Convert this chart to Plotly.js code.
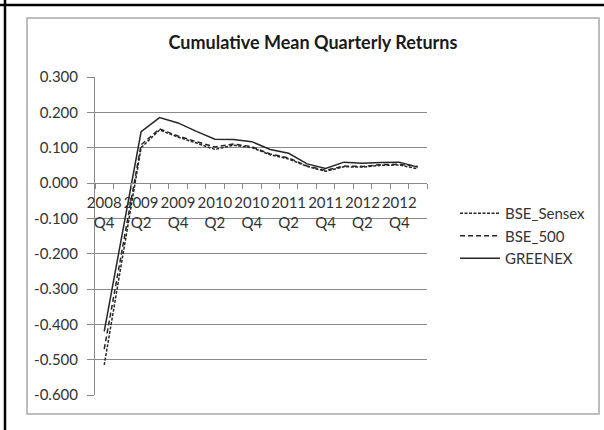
<!DOCTYPE html>
<html>
<head>
<meta charset="utf-8">
<script src="https://cdn.plot.ly/plotly-3.0.1.min.js"></script>
<style>
  html, body { margin: 0; padding: 0; background: #fff; }
  #chart { width: 604px; height: 430px; }
</style>
</head>
<body>
<div id="chart"></div>
<script>
// Quarters (categories)
const quarters = ['2008 Q4','2009 Q1','2009 Q2','2009 Q3','2009 Q4',
                  '2010 Q1','2010 Q2','2010 Q3','2010 Q4',
                  '2011 Q1','2011 Q2','2011 Q3','2011 Q4',
                  '2012 Q1','2012 Q2','2012 Q3','2012 Q4','2013 Q1'];
// Tick labels shown on the category axis (every other quarter)
const xTickText = ['2008<br>Q4','','2009<br>Q2','','2009<br>Q4','','2010<br>Q2','','2010<br>Q4',
                   '','2011<br>Q2','','2011<br>Q4','','2012<br>Q2','','2012<br>Q4',''];
// Series values (cumulative mean quarterly returns)
const bseSensex = [-0.515,-0.205,0.100,0.150,0.130,0.113,0.095,0.107,0.100,0.080,0.068,0.047,0.033,0.046,0.045,0.050,0.051,0.040];
const bse500    = [-0.470,-0.180,0.108,0.153,0.133,0.117,0.102,0.110,0.103,0.082,0.071,0.048,0.036,0.048,0.047,0.052,0.053,0.047];
const greenex   = [-0.420,-0.140,0.145,0.185,0.170,0.146,0.124,0.123,0.117,0.095,0.084,0.054,0.041,0.059,0.056,0.058,0.059,0.045];
// Y tick values and labels
const yTickVals = [0.3,0.2,0.1,0.0,-0.1,-0.2,-0.3,-0.4,-0.5,-0.6];
const yTickText = ['0.300','0.200','0.100','0.000','-0.100','-0.200','-0.300','-0.400','-0.500','-0.600'];

const W = 604, H = 430;
const M = {l: 95, r: 177, t: 77, b: 35};
const PW = W - M.l - M.r, PH = H - M.t - M.b;
// pixel -> plot-area "paper" fraction (for decorative frame shapes)
const fx = px => (px - M.l) / PW;
const fy = py => (H - M.b - py) / PH;

const FONT = 'Lato, Carlito, Calibri, "Open Sans", sans-serif';
const GRID = '#8a8a8a';
const LINE = '#262626';

const traces = [
  {x: quarters, y: bseSensex, name: 'BSE_Sensex', type: 'scatter', mode: 'lines',
   line: {color: LINE, width: 1.5, dash: '3px,1.5px'}},
  {x: quarters, y: bse500, name: 'BSE_500', type: 'scatter', mode: 'lines',
   line: {color: LINE, width: 1.5, dash: '5px,3px'}},
  {x: quarters, y: greenex, name: 'GREENEX', type: 'scatter', mode: 'lines',
   line: {color: LINE, width: 1.5}}
];

const layout = {
  width: W, height: H,
  margin: {l: M.l, r: M.r, t: M.t, b: M.b, pad: 0},
  paper_bgcolor: '#fff', plot_bgcolor: '#fff',
  font: {family: FONT, size: 15, color: '#333'},
  showlegend: true,
  title: {
    text: 'Cumulative Mean Quarterly Returns',
    font: {family: FONT, size: 18, weight: 700, color: '#1a1a1a'},
    x: 313/W, xref: 'container', xanchor: 'center',
    y: 1 - 43/H, yref: 'container', yanchor: 'middle'
  },
  xaxis: {
    type: 'category',
    categoryorder: 'array', categoryarray: quarters,
    range: [-0.5, 17.5],
    anchor: 'free', position: 2/3,
    tickmode: 'array', tickvals: quarters, ticktext: xTickText,
    tickson: 'boundaries',
    ticks: 'outside', ticklen: 5, tickcolor: GRID, tickwidth: 1,
    showline: true, linecolor: GRID, linewidth: 1,
    showgrid: false, zeroline: false,
    ticklabelstandoff: 6,
    tickfont: {family: FONT, size: 15, color: '#333'},
    tickangle: 0
  },
  yaxis: {
    range: [-0.6, 0.3],
    tickmode: 'array', tickvals: yTickVals, ticktext: yTickText,
    ticks: 'outside', ticklen: 7, tickcolor: GRID, tickwidth: 1,
    showline: true, linecolor: GRID, linewidth: 1,
    showgrid: true, gridcolor: GRID, gridwidth: 1,
    zeroline: false,
    ticklabelstandoff: 6,
    tickfont: {family: FONT, size: 15, color: '#333'}
  },
  legend: {
    x: 455/W, xref: 'container', xanchor: 'left',
    y: 1 - 197/H, yref: 'container', yanchor: 'top',
    font: {family: FONT, size: 15, color: '#333'},
    bgcolor: 'rgba(0,0,0,0)', borderwidth: 0,
    itemwidth: 40, traceorder: 'normal'
  },
  shapes: [
    {type: 'rect', xref: 'paper', yref: 'paper',
     x0: fx(27), x1: fx(599), y0: fy(414), y1: fy(18),
     line: {color: '#a8a8a8', width: 1.5}, layer: 'below'},
    {type: 'line', xref: 'paper', yref: 'paper',
     x0: fx(0), x1: fx(W), y0: fy(5), y1: fy(5),
     line: {color: '#000', width: 2.5}},
    {type: 'line', xref: 'paper', yref: 'paper',
     x0: fx(5), x1: fx(5), y0: fy(H), y1: fy(0),
     line: {color: '#000', width: 2.5}}
  ]
};

Plotly.newPlot('chart', traces, layout, {displayModeBar: false, staticPlot: true});
</script>
</body>
</html>
